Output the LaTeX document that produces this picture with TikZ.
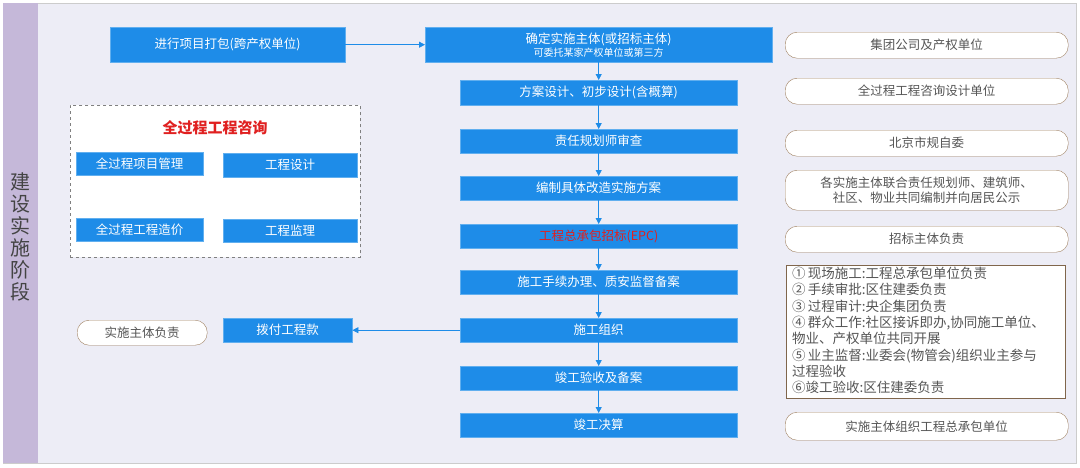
\documentclass[tikz,border=0pt]{standalone}
\usepackage{fontspec}
\setmainfont{Noto Sans CJK SC}
\usetikzlibrary{arrows.meta}
\definecolor{bl}{HTML}{1E8CE8}
\definecolor{bg}{HTML}{EDEDF6}
\definecolor{strip}{HTML}{C5B8D9}
\definecolor{rd}{HTML}{E02020}
\definecolor{gr}{HTML}{555555}
\tikzset{
 bbox/.style={fill=bl,draw=bl!70!white,text=white,font=\fontsize{12.5}{14}\selectfont,inner sep=0pt,anchor=north west},
 rbox/.style={fill=white,draw=brown!50!gray,rounded corners=12pt,text=gr,font=\fontsize{12.5}{15}\selectfont,inner sep=0pt,anchor=north west,align=center},
 arr/.style={-{Triangle[length=6pt,width=6pt]},draw=bl,thick}
}
\newcommand{\bx}[6]{\node[#1,minimum width=#4-#2,minimum height=#5-#3] (#6) at (#2,#3)}
\begin{document}
\begin{tikzpicture}[x=1pt,y=-1pt]
\useasboundingbox (0,0) rectangle (1080,467);
\fill[white] (0,0) rectangle (1080,467);
\draw[gray!40,fill=bg] (3,3) rectangle (1076,463);
\fill[strip] (3,3) rectangle (38,463);
\node[text=gr!80!black,font=\fontsize{20}{22}\selectfont,align=center] (stage) at (20,237) {建\\设\\实\\施\\阶\\段};
% left
\bx{bbox}{110}{27}{345}{62}{pack} {进行项目打包(跨产权单位)};
\bx{bbox}{425}{27}{772}{62}{main} {};
\node[text=white,align=center,font=\fontsize{12.5}{13}\selectfont] at (main.center) {确定实施主体(或招标主体)\\{\fontsize{10}{11}\selectfont 可委托某家产权单位或第三方}};
\draw[arr] (pack) -- (main);
% dashed box
\node[draw=gray,dashed,thick,fill=white,minimum width=290,minimum height=152,anchor=north west,inner sep=0] (cons) at (70,105) {};
\node[text=rd,font=\fontsize{15}{18}\selectfont\bfseries] (ctitle) at (215,128) {全过程工程咨询};
\bx{bbox}{76}{152}{203}{175}{c1} {全过程项目管理};
\bx{bbox}{223}{153}{357}{177}{c2} {工程设计};
\bx{bbox}{76}{218}{203}{241}{c3} {全过程工程造价};
\bx{bbox}{223}{219}{357}{242}{c4} {工程监理};
% center column
\bx{bbox}{460}{80}{737}{105}{s1} {方案设计、初步设计(含概算)};
\bx{bbox}{460}{129}{737}{153}{s2} {责任规划师审查};
\bx{bbox}{460}{176}{737}{200}{s3} {编制具体改造实施方案};
\bx{bbox}{460}{224}{737}{248}{s4} {\textcolor{rd}{工程总承包招标(EPC)}};
\bx{bbox}{460}{270}{737}{294}{s5} {施工手续办理、质安监督备案};
\bx{bbox}{460}{318}{737}{342}{s6} {施工组织};
\bx{bbox}{460}{366}{737}{390}{s7} {竣工验收及备案};
\bx{bbox}{460}{413}{737}{437}{s8} {竣工决算};
\draw[arr] (s1.north |- main.south) -- (s1);
\foreach \a/\b in {s1/s2,s2/s3,s3/s4,s4/s5,s5/s6,s6/s7,s7/s8} \draw[arr] (\a) -- (\b);
\bx{bbox}{223}{318}{352}{342}{pay} {拨付工程款};
\draw[arr] (s6) -- (pay);
\bx{rbox}{77}{320}{207}{345}{resp} {实施主体负责};
% right column
\bx{rbox}{785}{32}{1068}{58}{r1} {集团公司及产权单位};
\bx{rbox}{785}{78}{1068}{104}{r2} {全过程工程咨询设计单位};
\bx{rbox}{785}{130}{1068}{156}{r3} {北京市规自委};
\bx{rbox}{785}{170}{1068}{210}{r4} {各实施主体联合责任规划师、建筑师、\\社区、物业共同编制并向居民公示};
\bx{rbox}{785}{226}{1068}{252}{r5} {招标主体负责};
\node[draw=brown!50!gray!80!black,fill=white,minimum width=279,minimum height=133,anchor=north west,inner sep=0] (r6) at (786,265) {};
\node[anchor=north west,text=gr,align=left,font=\fontsize{13.5}{16.3}\selectfont,inner sep=0] (r6t) at (792,267) {①\,现场施工:工程总承包单位负责\\②\,手续审批:区住建委负责\\③\,过程审计:央企集团负责\\④\,群众工作:社区接诉即办,协同施工单位、\\物业、产权单位共同开展\\⑤\,业主监督:业委会(物管会)组织业主参与\\过程验收\\⑥竣工验收:区住建委负责};
\bx{rbox}{785}{412}{1068}{440}{r7} {实施主体组织工程总承包单位};
\end{tikzpicture}
\end{document}
